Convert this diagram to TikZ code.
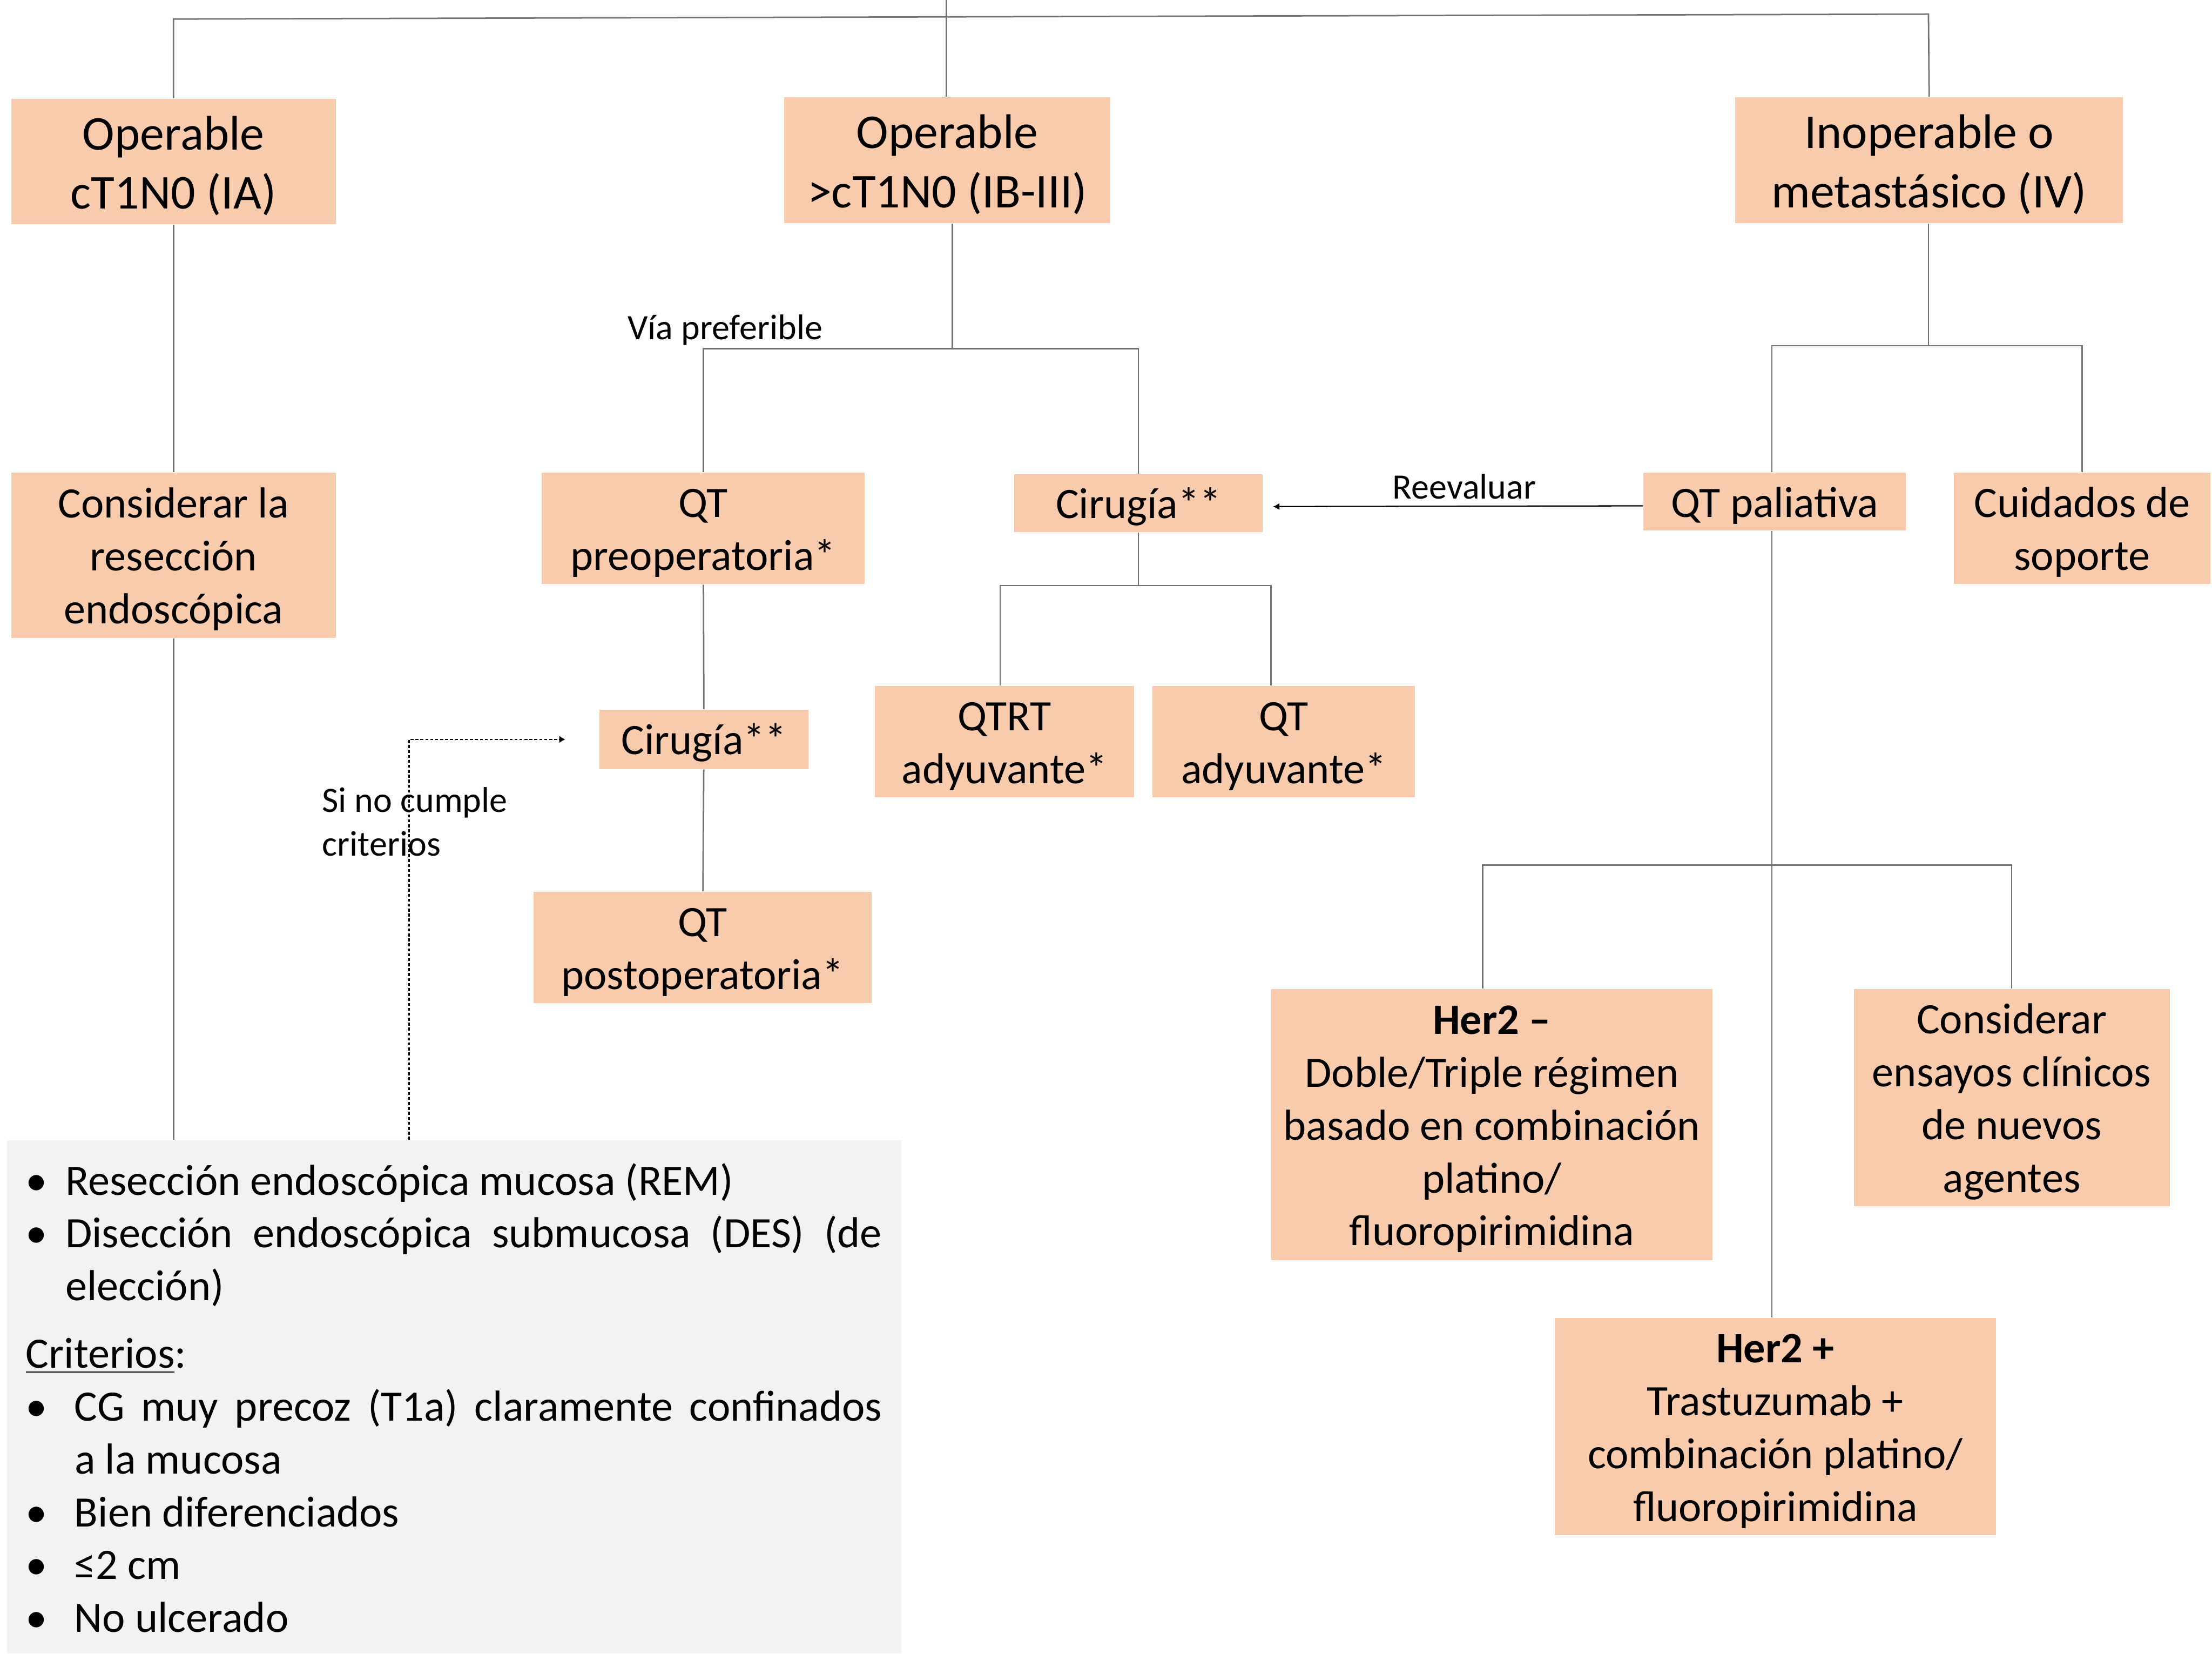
\documentclass[tikz,border=0pt]{standalone}
\usepackage{fontspec}
\setmainfont{Carlito}
\usetikzlibrary{calc,arrows.meta}
\definecolor{peach}{HTML}{F8CBAD}
\definecolor{panel}{HTML}{F2F2F2}
\newcommand\fsz[2]{\fontsize{#1}{#2}\selectfont}
\newcommand\bitem[1]{\noindent\hangindent=#1\hangafter=1\makebox[#1][l]{•}}
\newcommand\topstrut{\rule{0pt}{0.87em}}

\begin{document}
\begin{tikzpicture}[x=0.02cm,y=-0.02cm,
  box/.style={fill=peach, inner sep=0pt, align=center, font=\fsz{17.5}{21.3}},
  bigbox/.style={box, font=\fsz{19.6}{23.9}},
  link/.style={draw=black!55, line width=0.6pt},
  lbl/.style={inner sep=0pt, font=\fsz{14.4}{17.6}},
  dotarrow/.style={draw=black, line width=0.5pt, dash pattern=on 1.2pt off 0.8pt,
    -{Latex[length=2.4pt,width=3pt]}},
  backarrow/.style={draw=black, line width=0.5pt, -{Latex[length=2.6pt,width=2.8pt]}},
]
\useasboundingbox (0,0) rectangle (1568,1172);

% stage boxes
\node[bigbox, minimum width=4.6cm,  minimum height=1.78cm] (b1) at (123,114.5) {\topstrut Operable\\cT1N0 (IA)};
\node[bigbox, minimum width=4.62cm, minimum height=1.78cm] (b2) at (671.5,113.5) {\topstrut Operable\\>cT1N0 (IB-III)};
\node[bigbox, minimum width=5.5cm,  minimum height=1.78cm] (b3) at (1367.5,113.5) {\topstrut Inoperable o\\metastásico (IV)};

% second level
\node[box, minimum width=4.6cm,  minimum height=2.34cm] (b4) at (123,393.5) {\topstrut Considerar la\\resección\\endoscópica};
\node[box, minimum width=4.58cm, minimum height=1.58cm] (b5) at (498.5,374.5) {\topstrut QT\\preoperatoria*};
\node[box, minimum width=3.52cm, minimum height=0.82cm] (b6) at (807,356.5) {\topstrut Cirugía**};
\node[box, minimum width=3.72cm, minimum height=0.82cm] (b7) at (1258,355.5) {\topstrut QT paliativa};
\node[box, minimum width=3.64cm, minimum height=1.58cm] (b8) at (1476,374.5) {\topstrut Cuidados de\\soporte};

% third level
\node[box, minimum width=2.96cm, minimum height=0.84cm] (b9)  at (499,524) {\topstrut Cirugía**};
\node[box, minimum width=3.68cm, minimum height=1.58cm] (b10) at (712,525.5) {\topstrut QTRT\\adyuvante*};
\node[box, minimum width=3.72cm, minimum height=1.58cm] (b11) at (910,525.5) {\topstrut QT\\adyuvante*};
\node[box, minimum width=4.8cm,  minimum height=1.58cm] (b12) at (498,671.5) {\topstrut QT\\postoperatoria*};

% palliative branches
\node[box, minimum width=6.26cm, minimum height=3.84cm] (b13) at (1057.5,797) {\topstrut\textbf{Her2 –}\\Doble/Triple régimen\\basado en combinación\\platino/\\fluoropirimidina};
\node[box, minimum width=4.48cm, minimum height=3.08cm] (b14) at (1426,778) {\topstrut Considerar\\ensayos clínicos\\de nuevos\\agentes};
\node[box, minimum width=6.26cm, minimum height=3.08cm] (b15) at (1258.5,1011) {\topstrut\textbf{Her2 +}\\Trastuzumab +\\combinación platino/\\fluoropirimidina};

% endoscopic treatment panel
\node[fill=panel, inner sep=0pt, minimum width=12.68cm, minimum height=7.28cm] (gris) at (322,990) {};
\node[anchor=north west, inner sep=0pt, text width=12.14cm, align=justify,
      font=\fsz{17.5}{21.3}] (lista) at (18,824) {%
\bitem{0.56cm}Resección endoscópica mucosa (REM)\par
\bitem{0.56cm}Disección endoscópica submucosa (DES) (de\linebreak elección)\par
\vspace{0.21cm}
\noindent\underline{Criterios}:\par
\bitem{0.69cm}CG muy precoz (T1a) claramente confinados\linebreak a la mucosa\par
\bitem{0.69cm}Bien diferenciados\par
\bitem{0.69cm}≤2 cm\par
\bitem{0.69cm}No ulcerado\par};

% labels
\node[lbl] (via) at (514,234) {Vía preferible};
\node[lbl] (reev) at (1038,345) {Reevaluar};
\node[lbl, anchor=west, align=left] (sino) at (228,582.5) {Si no cumple\\criterios};

% junction points
\coordinate (top) at (671,0);
\coordinate (hl) at (123,13.5);
\coordinate (hr) at (1367,10);
\coordinate (j2) at (675,247);
\coordinate (j6) at (807,415);
\coordinate (j3) at (1367,245);
\coordinate (j7) at (1256,613);
\coordinate (sx) at (290,0);

% tree connectors
\draw[link] (top) -- (top |- b2.north);
\draw[link] (b1.north) -- (hl) -- (hr) -- (b3.north);
\draw[link] (b1) -- (b4);
\draw[link] (b4.south) -- (b4.south |- gris.north);

\draw[link] (b2.south -| j2) -- (j2);
\draw[link] (b5.north) -- (b5.north |- j2) -- (b6.north |- j2) -- (b6.north);
\draw[link] (b5) -- (b9);
\draw[link] (b9) -- (b12);

\draw[link] (b6.south) -- (j6);
\draw[link] ($(b10.north)+(-3,0)$) -- ($(b10.north |- j6)+(-3,0)$) -- ($(b11.north |- j6)+(-9,0)$) -- ($(b11.north)+(-9,0)$);

\draw[link] (b3.south -| j3) -- (j3);
\draw[link] ($(b7.north)+(-2,0)$) -- ($(b7.north |- j3)+(-2,0)$) -- (b8.north |- j3) -- (b8.north);

\draw[link] ($(b7.south)+(-2,0)$) -- ($(b15.north -| b7.south)+(-2,0)$);
\draw[link] ($(b13.north)+(-6.5,0)$) -- ($(b13.north |- j7)+(-6.5,0)$) -- (b14.north |- j7) -- (b14.north);

% back and exception arrows
\draw[backarrow] ($(b7.west)+(0,3)$) -- ($(b6.east)+(7,2.5)$);
\draw[dotarrow] (gris.north -| sx) |- ($(b9.west)+(-24,0)$);

\end{tikzpicture}
\end{document}
